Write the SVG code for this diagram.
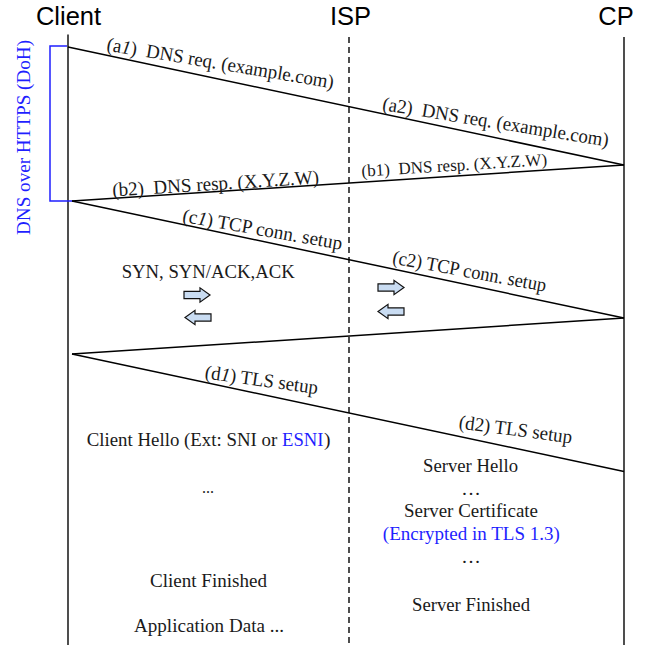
<svg xmlns="http://www.w3.org/2000/svg" width="647" height="645" viewBox="0 0 647 645">
<style>
.title{font-family:"Liberation Sans",Arial,sans-serif;font-size:25.5px;fill:#000;text-anchor:middle}
.t{font-family:"Liberation Serif","Times New Roman",serif;font-size:19.5px;fill:#1a1a1a}
.m{text-anchor:middle}
.blue{fill:#1f1fff}
.life{stroke:#222;stroke-width:1.6;fill:none}
.msg{stroke:#000;stroke-width:1.5;fill:none}
.arr{fill:#c9dcf2;stroke:#111;stroke-width:1.2;stroke-linejoin:miter}
</style>
<defs>
<path id="ra" d="M0,-3.6 H16 V-7.2 L26,0 L16,7.2 V3.6 H0 Z"/>
<path id="la" d="M26,-3.6 H10 V-7.2 L0,0 L10,7.2 V3.6 H26 Z"/>
</defs>
<rect width="647" height="645" fill="#fff"/>

<g id="client">
<text class="title" x="68.5" y="24.5">Client</text>
<line class="life" x1="68" y1="34.5" x2="68" y2="645"/>
</g>
<g id="isp">
<text class="title" x="350.5" y="24.5">ISP</text>
<line class="life" x1="349" y1="37" x2="349" y2="645" stroke-dasharray="6,4" stroke-width="1.5"/>
</g>
<g id="cp">
<text class="title" x="616" y="24.5">CP</text>
<line class="life" x1="624" y1="37" x2="624" y2="645"/>
</g>

<g id="doh">
<path d="M67,46 H50 V201 H72" fill="none" stroke="#1f1fff" stroke-width="1.5"/>
<text class="t blue m" style="font-size:19px" transform="translate(30,137.5) rotate(-90)" textLength="195" lengthAdjust="spacingAndGlyphs">DNS over HTTPS (DoH)</text>
</g>

<g id="connectors">
<line class="msg" x1="68" y1="47" x2="624" y2="165"/>
<line class="msg" x1="624" y1="165" x2="72" y2="201"/>
<line class="msg" x1="72" y1="201" x2="624" y2="318"/>
<line class="msg" x1="624" y1="318" x2="72" y2="354"/>
<line class="msg" x1="72" y1="354" x2="624" y2="471.5"/>
</g>

<g id="labels">
<text class="t" xml:space="preserve" transform="translate(106,50.5) rotate(9.5)" textLength="230" lengthAdjust="spacingAndGlyphs">(a<tspan font-style="italic">1</tspan>)  DNS req. (example.com)</text>
<text class="t" xml:space="preserve" transform="translate(381.7,110) rotate(9.2)" textLength="229" lengthAdjust="spacingAndGlyphs">(a2)  DNS req. (example.com)</text>
<text class="t" xml:space="preserve" style="font-size:17px" transform="translate(361.7,176.7) rotate(-3.6)" textLength="186" lengthAdjust="spacingAndGlyphs">(b1)  DNS resp. (X.Y.Z.W)</text>
<text class="t" xml:space="preserve" transform="translate(112.7,196.5) rotate(-3.6)" textLength="207" lengthAdjust="spacingAndGlyphs">(b2)  DNS resp. (X.Y.Z.W)</text>
<text class="t" transform="translate(181.7,221.7) rotate(10)" textLength="162" lengthAdjust="spacingAndGlyphs">(c<tspan font-style="italic">1</tspan>) TCP conn. setup</text>
<text class="t" transform="translate(391.7,263.3) rotate(10.5)" textLength="156" lengthAdjust="spacingAndGlyphs">(c2) TCP conn. setup</text>
<text class="t" transform="translate(204.3,378.3) rotate(8)" textLength="114" lengthAdjust="spacingAndGlyphs">(d<tspan font-style="italic">1</tspan>) TLS setup</text>
<text class="t" transform="translate(458.3,428.3) rotate(7.6)" textLength="114" lengthAdjust="spacingAndGlyphs">(d2) TLS setup</text>
</g>

<g id="tcp-notes">
<text class="t" x="121.7" y="278.3" textLength="173" lengthAdjust="spacingAndGlyphs">SYN, SYN/ACK,ACK</text>
<use href="#ra" class="arr" x="184" y="295"/>
<use href="#la" class="arr" x="185" y="317.5"/>
<use href="#ra" class="arr" x="378" y="287.5"/>
<use href="#la" class="arr" x="378" y="311.5"/>
</g>

<g id="client-tls">
<text class="t" x="86.7" y="445.7" textLength="190.5" lengthAdjust="spacingAndGlyphs">Client Hello (Ext: SNI or</text>
<text class="t blue" x="282" y="445.7" textLength="41.5" lengthAdjust="spacingAndGlyphs">ESNI</text>
<text class="t" x="324" y="445.7">)</text>
<text class="t m" x="208" y="493" style="font-size:16px">...</text>
<text class="t m" x="208.5" y="586.7" textLength="117" lengthAdjust="spacingAndGlyphs">Client Finished</text>
<text class="t m" x="209" y="631.7" textLength="150" lengthAdjust="spacingAndGlyphs">Application Data ...</text>
</g>

<g id="server-tls">
<text class="t m" x="470.5" y="471.7" textLength="95" lengthAdjust="spacingAndGlyphs">Server Hello</text>
<text class="t m" x="471" y="495">…</text>
<text class="t m" x="471" y="516.7" textLength="134" lengthAdjust="spacingAndGlyphs">Server Certificate</text>
<text class="t m blue" x="471.3" y="540" textLength="177" lengthAdjust="spacingAndGlyphs">(Encrypted in TLS 1.3)</text>
<text class="t m" x="471" y="563">…</text>
<text class="t m" x="471" y="610.7" textLength="118" lengthAdjust="spacingAndGlyphs">Server Finished</text>
</g>
</svg>
